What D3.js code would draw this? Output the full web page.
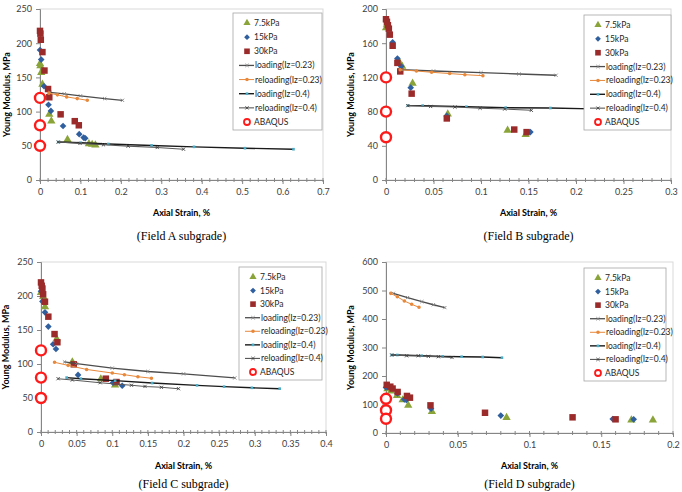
<!DOCTYPE html>
<html>
<head>
<meta charset="utf-8">
<script src="https://cdn.jsdelivr.net/npm/d3@7"></script>
<style>
body { margin: 0; background: #fff; }
svg text { font-family: Lato, "Open Sans", sans-serif; }
.tick text { font-size: 9px; fill: #404040; }
.axis-title { font-size: 9px; font-weight: bold; fill: #000; }
.caption { font-family: "Liberation Serif", "Times New Roman", serif !important; font-size: 12px; fill: #000; }
.legend-text { font-size: 8.5px; fill: #262626; }
</style>
</head>
<body>
<svg id="chart" width="682" height="492"></svg>
<script>
// ---- data (axial strain %, Young modulus MPa) ----
var abaqusModulus = [120, 80, 50];
var legendLabels = ['7.5kPa', '15kPa', '30kPa', 'loading(Iz=0.23)', 'reloading(Iz=0.23)', 'loading(Iz=0.4)', 'reloading(Iz=0.4)', 'ABAQUS'];
var captions = ['(Field A subgrade)', '(Field B subgrade)', '(Field C subgrade)', '(Field D subgrade)'];

// Field A
var fieldA_7_5kPa = [[0.0,170],[0.001,167],[0.003,157],[0.006,140],[0.023,96],[0.028,86],[0.068,59],[0.121,53],[0.129,52],[0.137,51]];
var fieldA_15kPa = [[0.0,190],[0.003,176],[0.01,137],[0.021,110],[0.027,101],[0.057,79],[0.097,67],[0.108,62],[0.112,61]];
var fieldA_30kPa = [[0.0,218],[0.001,214],[0.002,205],[0.006,187],[0.011,160],[0.02,133],[0.023,121],[0.051,96],[0.086,86],[0.096,80]];
var fieldA_load023 = [[0.025,128],[0.06,126],[0.1,123],[0.16,119],[0.204,116.5]];
var fieldA_reload023 = [[0.022,127],[0.043,124.5],[0.066,121.5],[0.092,119],[0.117,116.5]];
var fieldA_load04 = [[0.045,55.5],[0.1,54.5],[0.169,52.6],[0.276,50.5],[0.381,48.5],[0.507,46.5],[0.627,45]];
var fieldA_reload04 = [[0.045,55.5],[0.099,53.5],[0.157,51.5],[0.218,49.5],[0.29,47.5],[0.355,45]];

// Field B
var fieldB_7_5kPa = [[0.0,178],[0.001,182],[0.014,138],[0.017,133],[0.028,113],[0.065,77],[0.128,58],[0.147,53]];
var fieldB_15kPa = [[0.0,186],[0.007,161],[0.012,142],[0.016,133],[0.026,108],[0.064,75],[0.152,56]];
var fieldB_30kPa = [[0.0,188],[0.001,185],[0.002,181],[0.003,177],[0.004,170],[0.007,157],[0.012,137],[0.015,127],[0.027,101],[0.064,72],[0.135,59],[0.148,56]];
var fieldB_load023 = [[0.0165,129],[0.05,127.5],[0.1,125.5],[0.14,124],[0.179,122.5]];
var fieldB_reload023 = [[0.015,129],[0.032,127.5],[0.048,126],[0.067,124.5],[0.083,123.2],[0.102,122]];
var fieldB_load04 = [[0.023,87],[0.0386,87],[0.0846,85.7],[0.126,84.6],[0.173,84.2],[0.2165,83.2],[0.265,82.2]];
var fieldB_reload04 = [[0.023,87],[0.047,86],[0.0726,85.3],[0.099,84],[0.125,83],[0.153,81.5]];

// Field C
var fieldC_7_5kPa = [[0.0,205],[0.003,199],[0.0056,184],[0.022,137],[0.044,103],[0.084,78],[0.104,69]];
var fieldC_15kPa = [[0.0,207],[0.002,192],[0.0056,176],[0.0103,155],[0.017,129],[0.021,122],[0.052,84],[0.101,72.5],[0.114,68]];
var fieldC_30kPa = [[0.0,220],[0.001,215],[0.002,211],[0.003,202.5],[0.0056,191.6],[0.0103,169.6],[0.019,144],[0.023,132],[0.046,99.5],[0.091,78.4],[0.106,73.5]];
var fieldC_load023 = [[0.033,103],[0.05,100.5],[0.1,94],[0.15,89],[0.2,85.5],[0.272,79.5]];
var fieldC_reload023 = [[0.019,102.5],[0.038,98],[0.064,92],[0.1,86.7],[0.117,84.3],[0.136,81.3],[0.155,79]];
var fieldC_load04 = [[0.036,80],[0.056,78.4],[0.104,75.5],[0.156,72],[0.219,68.6],[0.257,66.7],[0.296,65],[0.335,63.7]];
var fieldC_reload04 = [[0.024,78.4],[0.044,76.5],[0.083,72.5],[0.127,68.7],[0.146,67],[0.169,65.7],[0.193,63.7]];

// Field D
var fieldD_7_5kPa = [[0.001,155],[0.0035,147],[0.0077,131],[0.0116,116],[0.0155,97],[0.032,75],[0.084,54],[0.171,45.6],[0.186,45.6]];
var fieldD_15kPa = [[0.0,160],[0.008,139],[0.0128,118],[0.0142,116],[0.0314,85],[0.08,61],[0.158,49],[0.1726,48]];
var fieldD_30kPa = [[0.0005,169],[0.003,162.5],[0.0046,156],[0.0081,144],[0.0146,130],[0.0167,124],[0.031,97],[0.069,71],[0.13,55],[0.16,48]];
var fieldD_load023 = [[0.0051,490],[0.015,475],[0.025,461],[0.033,450],[0.041,440]];
var fieldD_reload023 = [[0.0033,490],[0.0079,478],[0.0128,463],[0.0179,451.6],[0.023,441]];
var fieldD_load04 = [[0.004,273.7],[0.0079,273.7],[0.0249,271.2],[0.0395,269],[0.0527,267.7],[0.0674,266.7],[0.0808,264.2]];
var fieldD_reload04 = [[0.004,273.7],[0.0144,271],[0.0225,271],[0.0295,269],[0.0365,267.7],[0.046,265]];

// ---- layout ----
var panels = [
	{ left: 40, right: 323, top: 9, bottom: 180, xMax: 0.7, xStep: 0.1, yMax: 250, yStep: 50,
	  legend: [233, 13, 89, 117], yTitleX: 7, xTitleY: 216, captionY: 240, caption: captions[0],
	  series: [fieldA_7_5kPa, fieldA_15kPa, fieldA_30kPa, fieldA_load023, fieldA_reload023, fieldA_load04, fieldA_reload04] },
	{ left: 386, right: 671, top: 9, bottom: 180, xMax: 0.3, xStep: 0.05, yMax: 200, yStep: 40,
	  legend: [584, 15, 87, 115], yTitleX: 351, xTitleY: 216, captionY: 240, caption: captions[1],
	  series: [fieldB_7_5kPa, fieldB_15kPa, fieldB_30kPa, fieldB_load023, fieldB_reload023, fieldB_load04, fieldB_reload04] },
	{ left: 41, right: 326, top: 262, bottom: 432, xMax: 0.4, xStep: 0.05, yMax: 250, yStep: 50,
	  legend: [239, 267, 83, 113], yTitleX: 6, xTitleY: 469, captionY: 488, caption: captions[2],
	  series: [fieldC_7_5kPa, fieldC_15kPa, fieldC_30kPa, fieldC_load023, fieldC_reload023, fieldC_load04, fieldC_reload04] },
	{ left: 386, right: 673, top: 262, bottom: 433, xMax: 0.2, xStep: 0.05, yMax: 600, yStep: 100,
	  legend: [584, 268, 82, 113], yTitleX: 351, xTitleY: 469, captionY: 488, caption: captions[3],
	  series: [fieldD_7_5kPa, fieldD_15kPa, fieldD_30kPa, fieldD_load023, fieldD_reload023, fieldD_load04, fieldD_reload04] }
];

// scatter styles then line styles, same order as legendLabels
var scatterStyles = [
	{ symbol: d3.symbolTriangle, size: 30, color: '#8aa43a', rotate: 0 },
	{ symbol: d3.symbolSquare, size: 22, color: '#2f5f9f', rotate: 45 },
	{ symbol: d3.symbolSquare, size: 42, color: '#9b2b2b', rotate: 0 }
];
var lineStyles = [
	{ stroke: '#4d4d4d', width: 1.3, marker: d3.symbolX, markerSize: 8, markerColor: '#7f7f7f', fill: false },
	{ stroke: '#e8883a', width: 1, marker: d3.symbolCircle, markerSize: 10, markerColor: '#e8883a', fill: true },
	{ stroke: '#1a1a1a', width: 1.4, marker: d3.symbolSquare, markerSize: 7, markerColor: '#4bacc6', fill: true },
	{ stroke: '#595959', width: 1.1, marker: d3.symbolX, markerSize: 8, markerColor: '#404040', fill: false }
];

var svg = d3.select('#chart');

function fmtStrain(d)
{
	return String(+d.toFixed(3));
}

function drawPanel(p)
{
	var x = d3.scaleLinear().domain([0, p.xMax]).range([p.left, p.right]);
	var y = d3.scaleLinear().domain([0, p.yMax]).range([p.bottom, p.top]);
	var g = svg.append('g');

	g.append('rect')
		.attr('x', p.left).attr('y', p.top)
		.attr('width', p.right - p.left).attr('height', p.bottom - p.top)
		.attr('fill', 'none').attr('stroke', '#d9d9d9');

	// minor ticks along the strain axis
	var minor = d3.range(0, p.xMax + 1e-9, p.xStep / 5);
	g.selectAll('line.minor').data(minor).enter()
		.append('line')
		.attr('class', 'minor')
		.attr('x1', function(d){ return x(d); }).attr('x2', function(d){ return x(d); })
		.attr('y1', p.bottom - 2).attr('y2', p.bottom + 2)
		.attr('stroke', '#868686');

	var xAxis = g.append('g')
		.attr('transform', 'translate(0,' + p.bottom + ')')
		.call(d3.axisBottom(x).tickValues(d3.range(0, p.xMax + 1e-9, p.xStep)).tickSize(4).tickPadding(5).tickFormat(fmtStrain));
	var yAxis = g.append('g')
		.attr('transform', 'translate(' + p.left + ',0)')
		.call(d3.axisLeft(y).tickValues(d3.range(0, p.yMax + 1e-9, p.yStep)).tickSize(4).tickPadding(4).tickFormat(d3.format('d')));
	[xAxis, yAxis].forEach(function(a){
		a.select('.domain').attr('stroke', '#868686');
		a.selectAll('.tick line').attr('stroke', '#868686');
	});

	g.append('text').attr('class', 'axis-title')
		.attr('transform', 'translate(' + p.yTitleX + ',' + (p.top + p.bottom) / 2 + ') rotate(-90)')
		.attr('text-anchor', 'middle').attr('dy', '0.35em')
		.text('Young Modulus, MPa');
	g.append('text').attr('class', 'axis-title')
		.attr('x', (p.left + p.right) / 2).attr('y', p.xTitleY)
		.attr('text-anchor', 'middle')
		.text('Axial Strain, %');
	g.append('text').attr('class', 'caption')
		.attr('x', (p.left + p.right) / 2).attr('y', p.captionY)
		.attr('text-anchor', 'middle')
		.text(p.caption);

	// test points
	for(var i = 0; i < scatterStyles.length; i++)
	{
		var st = scatterStyles[i];
		g.selectAll(null).data(p.series[i]).enter()
			.append('path')
			.attr('d', d3.symbol().type(st.symbol).size(st.size))
			.attr('transform', function(d){ return 'translate(' + x(d[0]) + ',' + y(d[1]) + ') rotate(' + st.rotate + ')'; })
			.attr('fill', st.color);
	}

	// model curves
	var line = d3.line().x(function(d){ return x(d[0]); }).y(function(d){ return y(d[1]); });
	for(var j = 0; j < lineStyles.length; j++)
	{
		var ls = lineStyles[j];
		var data = p.series[3 + j];
		g.append('path')
			.attr('d', line(data))
			.attr('fill', 'none')
			.attr('stroke', ls.stroke)
			.attr('stroke-width', ls.width);
		g.selectAll(null).data(data).enter()
			.append('path')
			.attr('d', d3.symbol().type(ls.marker).size(ls.markerSize))
			.attr('transform', function(d){ return 'translate(' + x(d[0]) + ',' + y(d[1]) + ')'; })
			.attr('fill', ls.fill ? ls.markerColor : 'none')
			.attr('stroke', ls.fill ? 'none' : ls.markerColor)
			.attr('stroke-width', 0.9);
	}

	// ABAQUS rings on the modulus axis
	g.selectAll('circle.abaqus').data(abaqusModulus).enter()
		.append('circle')
		.attr('class', 'abaqus')
		.attr('cx', x(0))
		.attr('cy', function(d){ return y(d); })
		.attr('r', 5)
		.attr('fill', '#fff')
		.attr('stroke', '#ff1a1a')
		.attr('stroke-width', 2.4);

	drawLegend(g, p.legend);
}

function drawLegend(g, box)
{
	var lg = g.append('g');
	lg.append('rect')
		.attr('x', box[0]).attr('y', box[1]).attr('width', box[2]).attr('height', box[3])
		.attr('fill', '#fff').attr('stroke', '#a6a6a6').attr('stroke-width', 0.8);
	var step = (box[3] - 18) / (legendLabels.length - 1);
	legendLabels.forEach(function(label, i){
		var cy = box[1] + 10 + i * step;
		var mx = box[0] + 14;
		if(i < 3)
		{
			var st = scatterStyles[i];
			lg.append('path')
				.attr('d', d3.symbol().type(st.symbol).size(st.size * 0.75))
				.attr('transform', 'translate(' + mx + ',' + cy + ') rotate(' + st.rotate + ')')
				.attr('fill', st.color);
		}
		else if(i < 7)
		{
			var ls = lineStyles[i - 3];
			lg.append('line')
				.attr('x1', box[0] + 6).attr('x2', box[0] + 21)
				.attr('y1', cy).attr('y2', cy)
				.attr('stroke', ls.stroke).attr('stroke-width', ls.width);
			lg.append('path')
				.attr('d', d3.symbol().type(ls.marker).size(ls.markerSize))
				.attr('transform', 'translate(' + mx + ',' + cy + ')')
				.attr('fill', ls.fill ? ls.markerColor : 'none')
				.attr('stroke', ls.fill ? 'none' : ls.markerColor)
				.attr('stroke-width', 0.9);
		}
		else
		{
			lg.append('circle')
				.attr('cx', mx).attr('cy', cy).attr('r', 3)
				.attr('fill', '#fff').attr('stroke', '#ff1a1a').attr('stroke-width', 1.8);
		}
		lg.append('text').attr('class', 'legend-text')
			.attr('x', box[0] + (i < 3 || i == 7 ? 21 : 22)).attr('y', cy)
			.attr('dy', '0.35em')
			.text(label);
	});
}

panels.forEach(drawPanel);
</script>
</body>
</html>
